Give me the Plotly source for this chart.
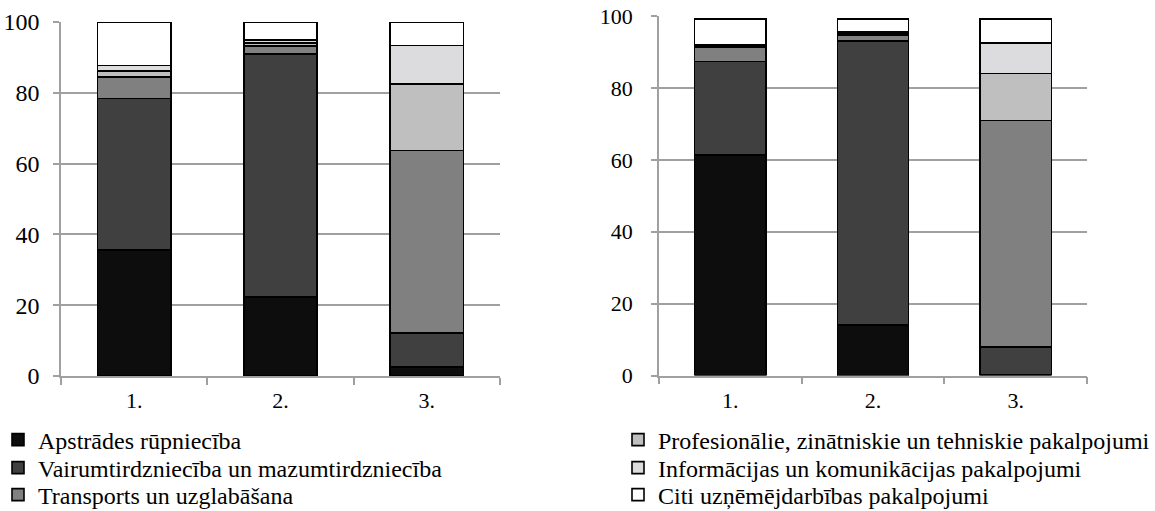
import plotly.graph_objects as go
from plotly.subplots import make_subplots

categories = ["1.", "2.", "3."]

series_names = [
    "Apstrādes rūpniecība",
    "Vairumtirdzniecība un mazumtirdzniecība",
    "Transports un uzglabāšana",
    "Profesionālie, zinātniskie un tehniskie pakalpojumi",
    "Informācijas un komunikācijas pakalpojumi",
    "Citi uzņēmējdarbības pakalpojumi",
]
series_colors = ["#0d0d0d", "#404040", "#808080", "#bfbfbf", "#dcdcdf", "#ffffff"]

# Left chart values (%), one list per series, categories 1., 2., 3.
left_apstrades = [35.6, 22.3, 2.6]
left_vairum = [42.8, 68.7, 9.6]
left_transports = [6.1, 2.2, 51.5]
left_profes = [1.7, 0.9, 18.8]
left_inform = [1.5, 0.9, 10.9]
left_citi = [12.3, 5.0, 6.6]

# Right chart values (%)
right_apstrades = [61.3, 14.0, 0.3]
right_vairum = [26.0, 79.1, 7.7]
right_transports = [4.1, 1.5, 62.9]
right_profes = [0.4, 0.4, 13.1]
right_inform = [0.3, 0.5, 8.5]
right_citi = [7.1, 3.7, 6.7]

left_values = [left_apstrades, left_vairum, left_transports, left_profes, left_inform, left_citi]
right_values = [right_apstrades, right_vairum, right_transports, right_profes, right_inform, right_citi]

y_ticks = [0, 20, 40, 60, 80, 100]

FONT = "Times New Roman, Liberation Serif, DejaVu Serif, serif"

W, H = 1155, 511

def px_x(a, b):
    return [a / W, b / W]

def px_y(top, bottom):
    return [1 - bottom / H, 1 - top / H]

# legend placement (pixels): one legend per entry, 3 rows per column
legend_ids = ["legend", "legend2", "legend3", "legend4", "legend5", "legend6"]
legend_left_px = [-2, -2, -2, 618, 618, 618]
legend_row_px = [440, 468, 495, 440, 468, 495]

fig = make_subplots(rows=1, cols=2)

for i, name in enumerate(series_names):
    fig.add_trace(go.Bar(
        x=categories, y=left_values[i], name=name,
        marker=dict(color=series_colors[i], line=dict(color="#000000", width=1.6)),
        showlegend=True, legend=legend_ids[i], legendgroup=name,
    ), row=1, col=1)
for i, name in enumerate(series_names):
    fig.add_trace(go.Bar(
        x=categories, y=right_values[i], name=name,
        marker=dict(color=series_colors[i], line=dict(color="#000000", width=1.6)),
        showlegend=False, legendgroup=name,
    ), row=1, col=2)

axis_common = dict(
    showline=True, linecolor="#a0a0a0", linewidth=1.5, automargin=False,
)

layout = dict(
    width=W, height=H,
    margin=dict(l=0, r=0, t=0, b=0, autoexpand=False),
    paper_bgcolor="white", plot_bgcolor="white",
    barmode="stack", bargap=0.5,
    font=dict(family=FONT, color="#000000"),
    xaxis=dict(domain=px_x(61, 500), type="category", tickson="boundaries",
               ticks="outside", ticklen=7, tickcolor="#a0a0a0", tickwidth=1.5,
               showgrid=False, anchor="y", ticklabelstandoff=4,
               tickfont=dict(family=FONT, size=22, color="#000000"), **axis_common),
    xaxis2=dict(domain=px_x(659, 1087), type="category", tickson="boundaries",
                ticks="outside", ticklen=7, tickcolor="#a0a0a0", tickwidth=1.5,
                showgrid=False, anchor="y2", ticklabelstandoff=4,
                tickfont=dict(family=FONT, size=22, color="#000000"), **axis_common),
    yaxis=dict(domain=px_y(22, 376), range=[0, 100], tickvals=y_ticks,
               ticks="outside", ticklen=6, tickcolor="#a0a0a0", tickwidth=1.5,
               showgrid=True, gridcolor="#a0a0a0", gridwidth=1.5, zeroline=False,
               anchor="x", ticklabelstandoff=9,
               tickfont=dict(family=FONT, size=24, color="#000000"), **axis_common),
    yaxis2=dict(domain=px_y(16, 375.5), range=[0, 100], tickvals=y_ticks,
                ticks="outside", ticklen=6, tickcolor="#a0a0a0", tickwidth=1.5,
                showgrid=True, gridcolor="#a0a0a0", gridwidth=1.5, zeroline=False,
                anchor="x2", ticklabelstandoff=14,
                tickfont=dict(family=FONT, size=22, color="#000000"), **axis_common),
)
for lid, lx, ly in zip(legend_ids, legend_left_px, legend_row_px):
    layout[lid] = dict(
        x=lx / W, y=1 - ly / H, xanchor="left", yanchor="middle",
        orientation="v", itemwidth=30,
        font=dict(family=FONT, size=24, color="#000000"),
        bgcolor="rgba(0,0,0,0)", borderwidth=0,
    )
fig.update_layout(**layout)

fig.write_html("out.html", config={"displayModeBar": False},
               post_script="document.body.style.margin='0px';")
